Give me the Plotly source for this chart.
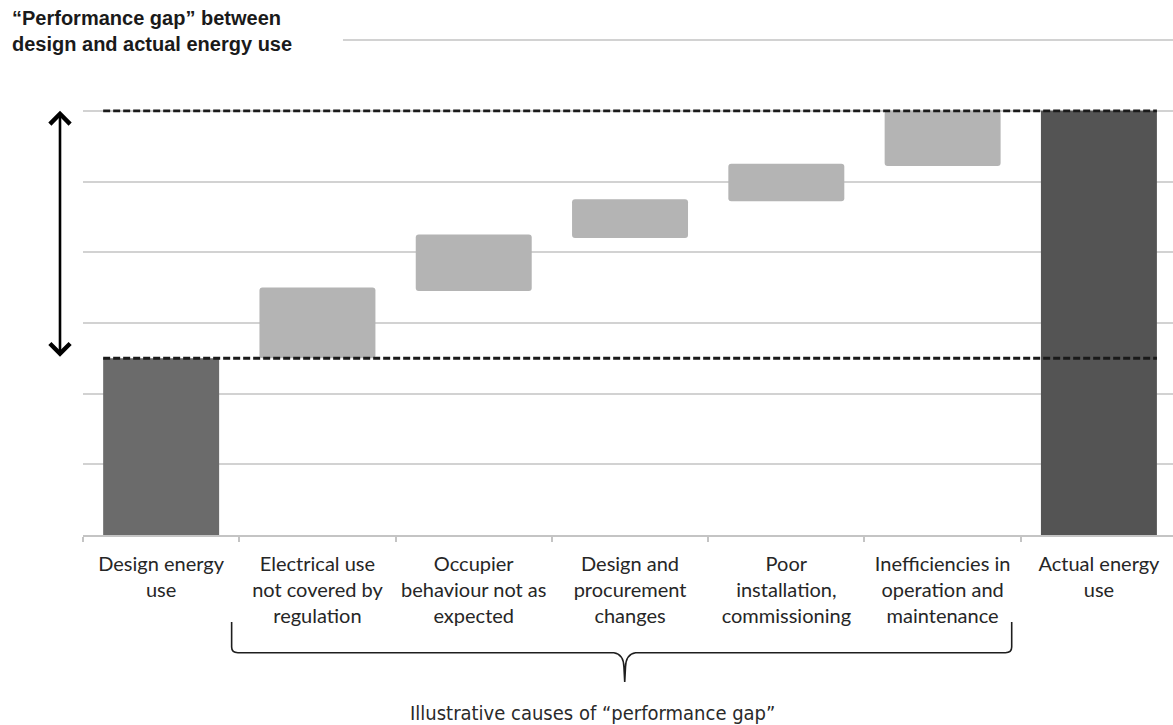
import plotly.graph_objects as go

# Categories along the x axis (line breaks as shown under each bar)
categories = [
    "Design energy<br>use",
    "Electrical use<br>not covered by<br>regulation",
    "Occupier<br>behaviour not as<br>expected",
    "Design and<br>procurement<br>changes",
    "Poor<br>installation,<br>commissioning",
    "Inefficiencies in<br>operation and<br>maintenance",
    "Actual energy<br>use",
]

# Floating bars: bottom and top of each bar (arbitrary energy units)
bar_base = [0.0, 2.5, 3.45, 4.2, 4.72, 5.22, 0.0]
bar_top = [2.5, 3.5, 4.25, 4.75, 5.25, 6.0, 6.0]

design_level = 2.5
actual_level = 6.0

total_idx = [0, 6]
cause_idx = [1, 2, 3, 4, 5]
total_colors = ["#6b6b6b", "#545454"]
cause_color = "#b4b4b4"

BAR_W = 0.742
X_RANGE = [-0.5, 6.474]
Y_RANGE = [0, 7.03]

LABEL_FONT = "Lato, Carlito, Calibri, sans-serif"
NARROW_FONT = "Liberation Sans Narrow, Arial Narrow, DejaVu Sans Condensed, Liberation Sans, sans-serif"
TITLE_FONT = "Liberation Sans, Arial, Helvetica, sans-serif"


def xp(c):
    """category units -> paper x"""
    return (c - X_RANGE[0]) / (X_RANGE[1] - X_RANGE[0])


def yp(v):
    """value units -> paper y"""
    return (v - Y_RANGE[0]) / (Y_RANGE[1] - Y_RANGE[0])


fig = go.Figure()

fig.add_trace(go.Bar(
    x=[categories[i] for i in total_idx],
    y=[bar_top[i] - bar_base[i] for i in total_idx],
    base=[bar_base[i] for i in total_idx],
    width=BAR_W,
    marker=dict(color=total_colors, line=dict(width=0)),
    hoverinfo="skip",
))

fig.add_trace(go.Bar(
    x=[categories[i] for i in cause_idx],
    y=[bar_top[i] - bar_base[i] for i in cause_idx],
    base=[bar_base[i] for i in cause_idx],
    width=BAR_W,
    marker=dict(color=cause_color, line=dict(width=0), cornerradius=3),
    hoverinfo="skip",
))

# Dashed reference levels for design and actual energy use
for lvl in (actual_level, design_level):
    fig.add_shape(
        type="line", xref="x", yref="y",
        x0=0 - BAR_W / 2, x1=6 + BAR_W / 2, y0=lvl, y1=lvl,
        line=dict(color="#1a1a1a", width=2.8, dash="7px,3px"),
        layer="above",
    )

# White patch behind the heading so the top gridline starts after it
fig.add_shape(
    type="rect", xref="paper", yref="paper",
    x0=-0.08, x1=0.2385, y0=yp(6.8), y1=yp(7.2),
    fillcolor="white", line=dict(width=0), layer="above",
)

# Curly brace grouping the causes
bl, br, bc = 0.451, 5.442, 2.966
y_end, y_mid, y_tip = -1.23, -1.665, -2.08
rx, ry = 0.04, 0.08
brace = (
    f"M {xp(bl)},{yp(y_end)} "
    f"L {xp(bl)},{yp(y_mid + ry)} "
    f"Q {xp(bl)},{yp(y_mid)} {xp(bl + rx)},{yp(y_mid)} "
    f"L {xp(bc - 0.07)},{yp(y_mid)} "
    f"Q {xp(bc - 0.008)},{yp(y_mid - 0.02)} {xp(bc - 0.005)},{yp(y_mid - 0.2)} "
    f"L {xp(bc)},{yp(y_tip)} "
    f"M {xp(bc)},{yp(y_tip)} "
    f"L {xp(bc + 0.005)},{yp(y_mid - 0.2)} "
    f"Q {xp(bc + 0.008)},{yp(y_mid - 0.02)} {xp(bc + 0.07)},{yp(y_mid)} "
    f"L {xp(br - rx)},{yp(y_mid)} "
    f"Q {xp(br)},{yp(y_mid)} {xp(br)},{yp(y_mid + ry)} "
    f"L {xp(br)},{yp(y_end)}"
)
fig.add_shape(
    type="path", xref="paper", yref="paper", path=brace,
    line=dict(color="#1e1e1e", width=1.6),
)

# Heading
fig.add_annotation(
    xref="paper", yref="paper", x=-0.067, y=1.066,
    xanchor="left", yanchor="top", align="left", showarrow=False,
    text="<b>“Performance gap” between<br>design and actual energy use</b>",
    font=dict(family=TITLE_FONT, size=20, color="#1a1a1a"),
)

# Double-headed arrow spanning the gap
fig.add_annotation(
    xref="paper", yref="y", x=-0.0211, y=actual_level,
    axref="pixel", ayref="y", ax=0, ay=design_level,
    showarrow=True, arrowside="end+start",
    arrowhead=4, startarrowhead=4, arrowsize=1.5, startarrowsize=1.5,
    arrowwidth=2.6, arrowcolor="#000000", text="",
)

# Caption below the brace
fig.add_annotation(
    xref="paper", yref="paper", x=0.467, y=-0.3576,
    xanchor="center", yanchor="middle", showarrow=False,
    text="Illustrative causes of “performance gap”",
    font=dict(family=NARROW_FONT, size=20, color="#2a2a2a"),
)

fig.update_layout(
    width=1173, height=725,
    margin=dict(l=83, r=0, t=38, b=190),
    paper_bgcolor="white", plot_bgcolor="white",
    showlegend=False, barmode="overlay",
    xaxis=dict(
        range=X_RANGE, categoryorder="array", categoryarray=categories,
        showgrid=False, showline=True, linecolor="#c4c4c4", linewidth=1.5,
        ticks="outside", tickson="boundaries", ticklen=5, tickcolor="#c4c4c4",
        tickwidth=1.5, ticklabelstandoff=10,
        tickfont=dict(family=LABEL_FONT, size=20, color="#262626"),
        fixedrange=True,
    ),
    yaxis=dict(
        range=Y_RANGE, dtick=1, tick0=0, showticklabels=False,
        showgrid=True, gridcolor="#d2d2d2", gridwidth=1.5,
        zeroline=False, showline=False, fixedrange=True,
    ),
)

fig.write_html("out.html")
